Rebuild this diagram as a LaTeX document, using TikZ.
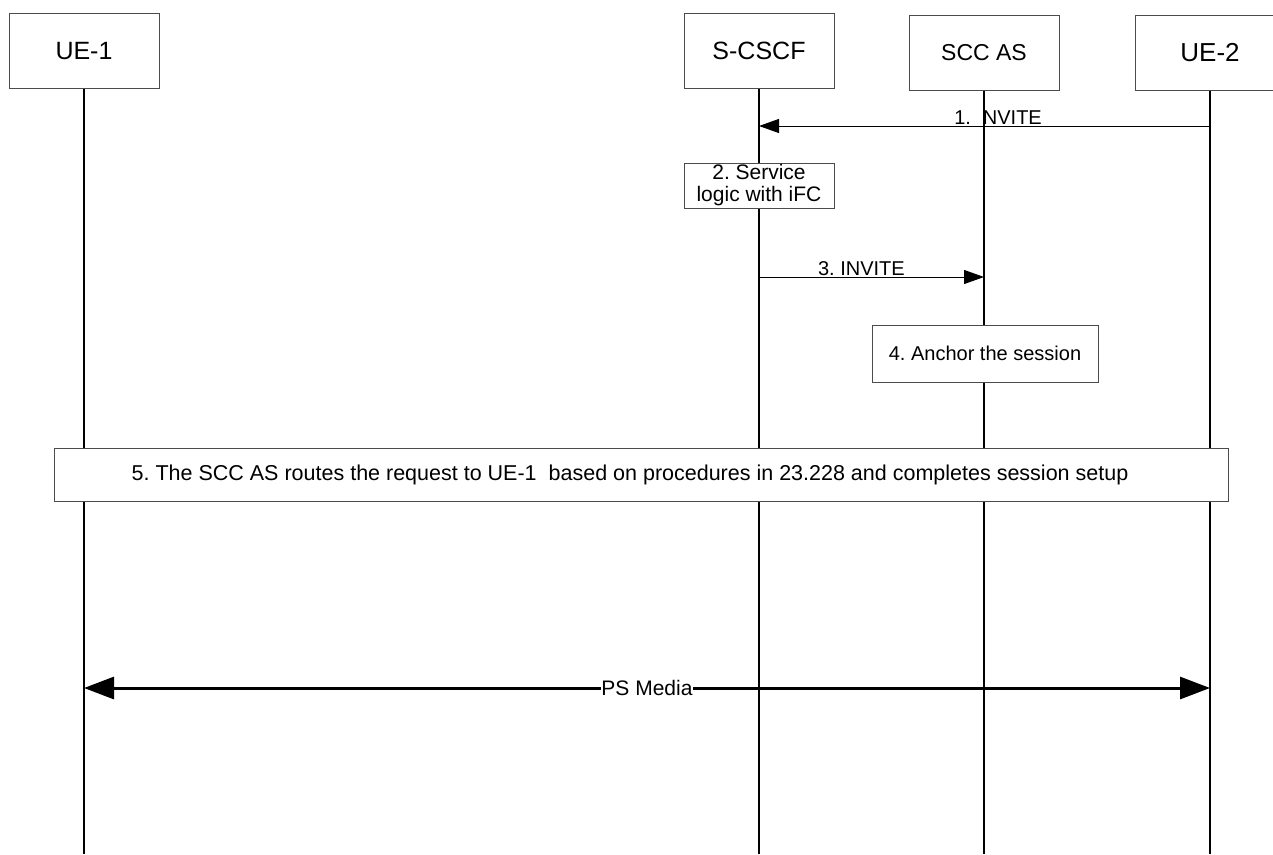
\documentclass[tikz,border=0pt]{standalone}
\usepackage{fontspec}
\setmainfont{Liberation Sans}
\usetikzlibrary{arrows.meta,positioning}
\frenchspacing
\begin{document}
\begin{tikzpicture}[
      x=1pt, y=-1pt,
      entite/.style={
        draw=black!70,
        line width=1pt,
        minimum width=150pt,
        minimum height=75pt,
        inner sep=0pt
      },
      etape/.style={
        draw=black!70,
        fill=white,
        line width=1pt,
        inner sep=0pt,
        align=center,
        font=\fontsize{20}{21}\selectfont
      },
      vie/.style={line width=1.6pt},
      msg/.style={line width=1pt, -{Triangle[length=20pt,width=14pt]}},
      media/.style={line width=3pt,
        {Triangle[length=30pt,width=22pt]}-{Triangle[length=30pt,width=22pt]}},
      txt/.style={font=\fontsize{20}{22}\selectfont, inner sep=1pt}
    ]
    \useasboundingbox (0,0) rectangle (1273,854);
    \coordinate (bas) at (0,854);
    % entites
    \node[entite, font=\fontsize{25}{30}\selectfont] (ue1) at (84,51) {UE-1};
    \node[entite, font=\fontsize{25}{30}\selectfont] (scscf) at (759,51) {S-CSCF};
    \node[entite, font=\fontsize{23}{27}\selectfont] (sccas) at (984,52.5) {SCC AS};
    \node[entite, font=\fontsize{26}{30}\selectfont] (ue2) at (1210,52.5) {UE-2};
    \draw[vie] (ue1) -- (ue1 |- bas);
    \draw[vie] (scscf) -- (scscf |- bas);
    \draw[vie] (sccas) -- (sccas |- bas);
    \draw[vie] (ue2) -- (ue2 |- bas);
    % messages
    \coordinate (m1d) at (ue2 |- 0,126);
    \coordinate (m1f) at (scscf |- 0,126);
    \draw[msg] (m1d) -- node[txt, pos=0.47, above] {1.\hspace{0.6em}NVITE} (m1f);
    \node[etape, minimum width=150pt, minimum height=45pt, font=\fontsize{21}{22}\selectfont] (svc) at (759,185.5)
      {2. Service\\logic with iFC};
    \coordinate (m3d) at (scscf |- 0,277);
    \coordinate (m3f) at (sccas |- 0,277);
    \draw[msg] (m3d) -- node[txt, pos=0.455, above] {3. INVITE} (m3f);
    \node[etape, minimum width=226pt, minimum height=57pt] (ancre) at (985,353.5)
      {4. Anchor the session};
    \node[etape, minimum width=1174pt, minimum height=53pt, font=\fontsize{21.5}{24}\selectfont] (route) at (641,474.5)
      {5. The SCC AS routes the request to UE-1 \ based on procedures in 23.228 and completes session setup\hspace*{22pt}};
    \coordinate (psg) at (ue1 |- 0,688);
    \coordinate (psd) at (ue2 |- 0,688);
    \draw[media] (psg) -- node[txt, fill=white, inner sep=0.5pt, font=\fontsize{21}{22}\selectfont] {PS Media} (psd);
  \end{tikzpicture}
\end{document}
